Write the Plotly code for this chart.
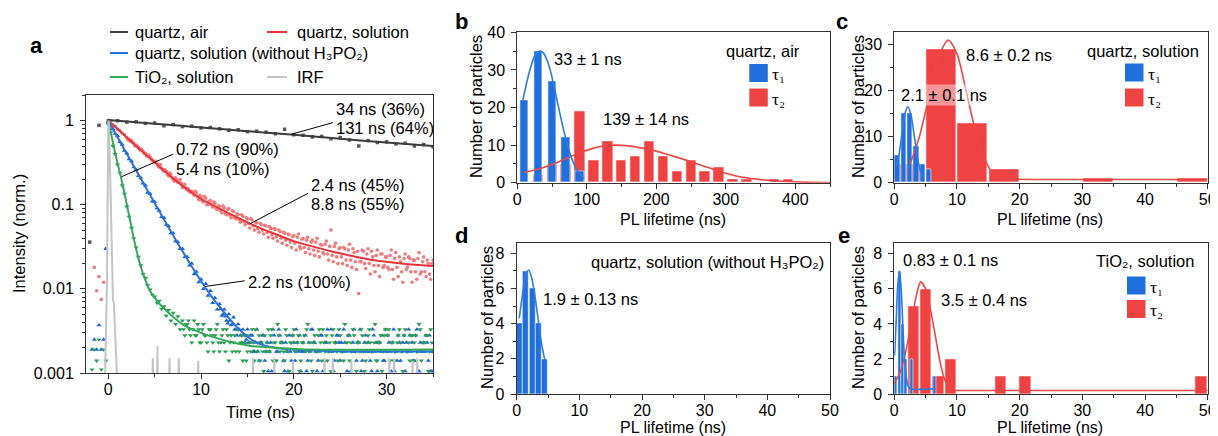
import numpy as np
import plotly.graph_objects as go

W, H = 1218, 436          # window size
OFF = 8                    # default page margin of the html body
FW, FH = W - OFF, H - OFF  # figure size so that it fits the window exactly
FONT = "Liberation Sans, Arial, DejaVu Sans, sans-serif"
SERIF = "Liberation Serif, Times New Roman, DejaVu Serif, serif"

# ================= panel a : PL decays (log scale) =================
# main sampling: 0.25 ns grid starting at -2 ns (one row per ns)
T0, DT = -2.0, 0.25
red_solution = [
    None, None, 0.018, 0.0095,   # -2
    0.014, 0.0075, 0.012, 0.03,  # -1
    0.93, 0.98, 0.88, 0.86,
    0.79, 0.76, 0.71, 0.68,
    0.63, 0.60, 0.58, 0.54,
    0.51, 0.48, 0.46, 0.43,
    0.41, 0.38, 0.37, 0.34,
    0.32, 0.31, 0.28, 0.27,
    0.25, 0.25, 0.22, 0.23,
    0.20, 0.21, 0.185, 0.20,
    0.16, 0.175, 0.15, 0.145,
    0.145, 0.13, 0.14, 0.115,   # 9
    0.125, 0.108, 0.12, 0.10,
    0.112, 0.094, 0.104, 0.088,
    0.096, 0.08, 0.092, 0.076,
    0.09, 0.07, 0.083, 0.068,
    0.076, 0.062, 0.073, 0.058,
    0.068, 0.053, 0.066, 0.05,   # 15
    0.061, 0.047, 0.058, 0.045,
    0.056, 0.041, 0.052, 0.04,
    0.051, 0.037, 0.048, 0.035,
    0.046, 0.033, 0.044, 0.031,
    0.043, 0.029, 0.045, 0.03,   # 20
    0.04, 0.027, 0.041, 0.026,
    0.038, 0.025, 0.04, 0.024,
    0.033, 0.026, 0.037, 0.022,
    0.05, 0.021, 0.035, 0.02,
    0.031, 0.02, 0.03, 0.019,    # 25
    0.034, 0.018, 0.027, 0.017,
    0.0088, 0.021, 0.028, 0.0175,
    0.03, 0.015, 0.024, 0.016,
    0.029, 0.014, 0.026, 0.019,
    0.024, 0.017, 0.029, 0.013,  # 30
    0.027, 0.014, 0.021, 0.012,
    0.026, 0.018, 0.023, 0.012,
    0.022, 0.013, 0.027, 0.016,
    0.024, 0.014, 0.02, 0.013,
    0.022,                       # 35
]
blue_no_h3po2 = [
    None, 0.0019, 0.0025, 0.0019,
    0.0037, 0.0019, 0.0025, 0.03,
    0.97, 0.88, 0.80, 0.70,
    0.66, 0.56, 0.52, 0.44,
    0.41, 0.35, 0.33, 0.28,
    0.26, 0.22, 0.21, 0.18,
    0.17, 0.14, 0.135, 0.11,
    0.108, 0.091, 0.085, 0.072,
    0.07, 0.058, 0.056, 0.046,
    0.046, 0.037, 0.036, 0.03,
    0.03, 0.024, 0.024, 0.019,
    0.02, 0.015, 0.016, 0.012,
    0.013, 0.01, 0.0115, 0.0083,
    0.0095, 0.0068, 0.0078, 0.0057,
    0.0066, 0.0048, 0.0057, 0.0042,
    0.005, 0.0037, 0.0046, 0.0033,
    0.0038, 0.0028, 0.0033, 0.0023,
    0.0033, 0.0023, 0.0028, 0.0018,
    0.0033, 0.0014, 0.0023, 0.0028,
    0.0018, 0.00105, 0.0023, 0.0033,
    0.0014, 0.0018, 0.0028, 0.0023,
    0.00105, 0.0018, 0.0028, 0.0014,
    0.0023, 0.0033, 0.0018, 0.00105,
    0.0023, 0.0028, 0.0014, 0.0018,
    0.0033, 0.0023, 0.00105, 0.0018,
    0.0028, 0.0014, 0.0023, 0.0018,
    0.0033, 0.00105, 0.0023, 0.0028,
    0.0014, 0.0018, 0.0023, 0.00105,
    0.0028, 0.0018, 0.0033, 0.0014,
    0.0023, 0.00105, 0.0018, 0.0028,
    0.0023, 0.0014, 0.0033, 0.0018,
    0.00105, 0.0023, 0.0028, 0.0014,
    0.0018, 0.0023, 0.00105, 0.0033,
    0.0018, 0.0028, 0.0014, 0.0023,
    0.00105, 0.0018, 0.0028, 0.0023,
    0.0014, 0.0033, 0.00105, 0.0018,
    0.0023, 0.0028, 0.0014, 0.00105,
    0.0018,
]
green_tio2 = [
    None, 0.0011, 0.0019, 0.0014,
    0.0025, 0.0011, 0.0019, 0.0014,
    0.90, 0.72, 0.50, 0.40,
    0.30, 0.24, 0.17, 0.135,
    0.095, 0.072, 0.053, 0.04,
    0.031, 0.024, 0.019, 0.015,
    0.0135, 0.011, 0.0098, 0.0085,
    0.0081, 0.0068, 0.0072, 0.0058,
    0.0062, 0.0048, 0.0056, 0.0042,
    0.0052, 0.0038, 0.0047, 0.0033,
    0.0042, 0.0028, 0.0038, 0.0033,
    0.0023, 0.0042, 0.0028, 0.0033,
    0.0023, 0.0038, 0.0028, 0.0018,
    0.0033, 0.0023, 0.0028, 0.0038,
    0.0018, 0.0028, 0.0023, 0.0033,
    0.0014, 0.0028, 0.0023, 0.0018,
    0.0033, 0.0023, 0.0014, 0.0028,
    0.0018, 0.0023, 0.0033, 0.0014,
    0.0018, 0.0028, 0.0023, 0.00105,
    0.0018, 0.0033, 0.0028, 0.0014,
    0.0023, 0.0038, 0.0018, 0.0023,
    0.0014, 0.0028, 0.00105, 0.0023,
    0.0033, 0.0018, 0.0028, 0.0014,
    0.0023, 0.0018, 0.0038, 0.0023,
    0.00105, 0.0028, 0.0018, 0.0033,
    0.0014, 0.0023, 0.0028, 0.0018,
    0.00105, 0.0033, 0.0023, 0.0014,
    0.0028, 0.0018, 0.0038, 0.0023,
    0.0014, 0.0018, 0.0028, 0.00105,
    0.0023, 0.0033, 0.0018, 0.0014,
    0.0028, 0.0023, 0.0018, 0.0038,
    0.0014, 0.0023, 0.00105, 0.0028,
    0.0018, 0.0033, 0.0023, 0.0014,
    0.0018, 0.0028, 0.0023, 0.00105,
    0.0033, 0.0018, 0.0014, 0.0028,
    0.0023, 0.0018, 0.0038, 0.0014,
    0.0023, 0.0028, 0.00105, 0.0033,
    0.0018,
]

# interleaved channels (offset by half a step), one row per ns
red_solution_mid_t0 = 2.125
red_solution_mid = [
    0.59, 0.57, 0.55, 0.50,     # 2
    0.50, 0.45, 0.45, 0.41,
    0.38, 0.39, 0.35, 0.33,
    0.33, 0.29, 0.30, 0.26,
    0.26, 0.23, 0.24, 0.21,
    0.19, 0.20, 0.19, 0.18,
    0.17, 0.158, 0.155, 0.14,
    0.138, 0.145, 0.125, 0.13,
    0.112, 0.125, 0.10, 0.11,   # 10
    0.10, 0.108, 0.09, 0.097,
    0.085, 0.097, 0.078, 0.088,
    0.075, 0.085, 0.07, 0.078,
    0.066, 0.076, 0.063, 0.07,
    0.06, 0.068, 0.056, 0.062,  # 15
    0.052, 0.06, 0.05, 0.057,
    0.047, 0.055, 0.044, 0.052,
    0.042, 0.05, 0.04, 0.047,
    0.038, 0.045, 0.036, 0.042,
    0.035, 0.041, 0.032, 0.039,  # 20
    0.031, 0.038, 0.03, 0.036,
    0.029, 0.036, 0.028, 0.034,
    0.027, 0.034, 0.026, 0.032,
    0.025, 0.032, 0.024, 0.03,
    0.024, 0.031, 0.022, 0.029,  # 25
    0.022, 0.03, 0.021, 0.028,
    0.021, 0.029, 0.02, 0.026,
    0.02, 0.028, 0.019, 0.025,
    0.019, 0.026, 0.018, 0.024,
    0.018, 0.025, 0.017, 0.023,  # 30
    0.018, 0.024, 0.016, 0.023,
    0.017, 0.024, 0.016, 0.022,
    0.016, 0.023, 0.015, 0.021,
    0.016, 0.022, 0.015, 0.02,
]
blue_no_h3po2_mid_t0 = 12.125
blue_no_h3po2_mid = [
    0.0058, 0.005, 0.0047, 0.0039,   # 12
    0.0042, 0.0038, 0.0033, 0.0028,
    0.0033, 0.0023, 0.0028, 0.0025,
    0.0023, 0.0028, 0.0018, 0.0023,
    0.0018, 0.0023, 0.0028, 0.0014,  # 16
    0.0023, 0.0018, 0.00105, 0.0028,
    0.0018, 0.0033, 0.0023, 0.0014,
    0.0023, 0.00105, 0.0018, 0.0028,
    0.0014, 0.0023, 0.0028, 0.0018,  # 20
    0.0018, 0.00105, 0.0023, 0.0033,
    0.0023, 0.0018, 0.0014, 0.0028,
    0.00105, 0.0023, 0.0033, 0.0018,
    0.0018, 0.0014, 0.0028, 0.0023,
    0.0023, 0.0033, 0.0018, 0.0028,  # 25
    0.00105, 0.0023, 0.0018, 0.0023,
    0.0033, 0.0014, 0.0023, 0.0018,
    0.0018, 0.00105, 0.0028, 0.0023,
    0.0023, 0.0018, 0.0014, 0.0033,
    0.0028, 0.0018, 0.0023, 0.00105,  # 30
    0.0014, 0.0023, 0.0018, 0.0028,
    0.0023, 0.0033, 0.0018, 0.0014,
    0.0028, 0.00105, 0.0023, 0.0018,
    0.0018, 0.0023, 0.0028, 0.00105,
]
green_tio2_mid_t0 = 8.125
green_tio2_mid = [
    0.0033, 0.0038, 0.0042, 0.0028,  # 8
    0.0033, 0.0028, 0.0038, 0.0023,
    0.0033, 0.0028, 0.0023, 0.0033,
    0.0028, 0.0018, 0.0033, 0.0023,
    0.0023, 0.0033, 0.0018, 0.0028,
    0.0023, 0.0018, 0.0028, 0.0033,
    0.0018, 0.0028, 0.0023, 0.0014,
    0.0028, 0.0018, 0.0023, 0.0033,  # 15
    0.0023, 0.0014, 0.0018, 0.0028,
    0.0023, 0.0018, 0.0033, 0.0023,
    0.0014, 0.0028, 0.0023, 0.0018,
    0.0033, 0.0018, 0.0023, 0.0028,
    0.0018, 0.0023, 0.00105, 0.0023,  # 20
    0.0028, 0.0033, 0.0018, 0.0014,
    0.0023, 0.0018, 0.0028, 0.0023,
    0.0033, 0.0018, 0.0014, 0.0023,
    0.0028, 0.0023, 0.0018, 0.0033,
    0.0018, 0.0014, 0.0023, 0.0028,  # 25
    0.0023, 0.0033, 0.0018, 0.0023,
    0.0018, 0.0028, 0.00105, 0.0023,
    0.0033, 0.0018, 0.0023, 0.0014,
    0.0023, 0.0028, 0.0018, 0.0033,
    0.0028, 0.0014, 0.0023, 0.0018,  # 30
    0.0023, 0.0033, 0.0018, 0.0028,
    0.0018, 0.0023, 0.0028, 0.0014,
    0.0028, 0.0018, 0.0033, 0.0023,
    0.0023, 0.0028, 0.0018, 0.0023,
]

air_t = [-2.0, -1.0, 0.0, 1, 2, 3, 4, 5, 6, 7, 8, 9, 10, 11, 12, 13, 14, 15, 16,
         17, 18, 19, 20, 21, 22, 23, 24, 25, 26, 27, 28, 29, 30, 31, 32, 33, 34, 35]
air_v = [0.036, 0.88, 1.0, 1.0, 0.96, 0.97, 0.93, 0.94, 0.87, 0.90, 0.85, 0.86,
         0.82, 0.83, 0.80, 0.77, 0.78, 0.74, 0.75, 0.73, 0.70, 0.79, 0.68, 0.67,
         0.64, 0.65, 0.61, 0.63, 0.59, 0.50, 0.58, 0.55, 0.56, 0.53, 0.54, 0.50,
         0.52, 0.49]

# fitted curves
fit_air_t = [0, 5, 10, 15, 20, 25, 30, 35]
fit_air_v = [1.02, 0.92, 0.83, 0.75, 0.68, 0.61, 0.55, 0.50]
fit_red_t = [0, 1, 2, 3, 4, 5, 6, 7, 8, 9, 10, 12, 14, 16, 18, 20, 22, 24, 26, 28, 30, 32, 35]
fit_red_v = [1.0, 0.8, 0.63, 0.5, 0.4, 0.32, 0.255, 0.205, 0.168, 0.14, 0.118, 0.09,
             0.07, 0.055, 0.045, 0.037, 0.032, 0.028, 0.025, 0.0225, 0.021, 0.0198, 0.0187]
fit_blue_t = [0, 1, 2, 3, 4, 5, 6, 7, 8, 9, 10, 11, 12, 13, 14, 15, 16, 17, 18, 20, 22, 26, 35]
fit_blue_v = [1.0, 0.637, 0.405, 0.258, 0.164, 0.105, 0.067, 0.043, 0.028, 0.0185, 0.0124,
              0.0085, 0.0061, 0.0045, 0.0034, 0.0027, 0.0023, 0.0021, 0.002, 0.0019,
              0.00185, 0.0018, 0.0018]
fit_green_t = [0, 0.25, 0.5, 0.75, 1.0, 1.36, 1.7, 2.0, 2.4, 2.79, 3.3, 3.86, 4.5, 5.29,
               6.5, 8.14, 10, 11.7, 13.5, 15.3, 18, 22, 35]
fit_green_v = [1.0, 0.75, 0.55, 0.41, 0.31, 0.216, 0.145, 0.1, 0.062, 0.038, 0.022, 0.014,
               0.0095, 0.0071, 0.0052, 0.0037, 0.003, 0.0026, 0.0023, 0.0021, 0.002,
               0.0019, 0.0019]

# instrument response function
irf_t = [-0.35, -0.15, 0.0, 0.05, 0.2, 0.35, 0.5, 0.6, 0.75, 0.9, 0.95]
irf_v = [0.0009, 0.01, 0.8, 1.0, 0.25, 0.03, 0.0075, 0.0068, 0.003, 0.0013, 0.0009]
irf_spike_t = [4.8, 5.3, 6.6, 7.6, 9.7, 15.6, 17.9, 19.9, 23.3, 24.2, 26.2, 30.3, 30.8, 32.8, 33.3]
irf_spike_v = [0.0015, 0.0021, 0.0015, 0.0015, 0.0014, 0.0015, 0.0015, 0.0014, 0.0015,
               0.0015, 0.0014, 0.0015, 0.0015, 0.0014, 0.0015]

# ================= panels b-e : lifetime histograms =================
b_tau1_x = [10, 30, 50, 70, 90]
b_tau1_n = [22, 35, 27, 12, 3]
b_tau2_x = [30, 50, 70, 90, 110, 130, 150, 170, 190, 210, 230, 250, 270, 290, 310, 330, 350, 370, 390]
b_tau2_n = [2, 5, 5, 19, 6, 11, 6, 7, 11, 7, 3, 6, 3, 4, 1, 1, 0, 1, 1]
b_fit1_x = [8, 12, 16, 20, 25, 30, 33, 38, 43, 48, 53, 58, 63, 68, 73, 78, 83, 88, 93, 96]
b_fit1_y = [22, 25.4, 28.5, 31.2, 33.7, 34.8, 35, 34.4, 32.5, 29.5, 25.5, 21.2, 17, 13, 9.5,
            6.6, 4.4, 2.8, 1.7, 1.2]
b_fit2_x = [10, 25, 40, 60, 80, 95, 110, 125, 140, 160, 180, 200, 220, 245, 270, 295, 320, 345, 370, 395, 420, 450]
b_fit2_y = [2.8, 3.4, 4.2, 5.6, 7.2, 8.3, 9.2, 9.8, 10, 9.8, 9.2, 8.4, 7.3, 5.9, 4.3, 2.8,
            1.6, 0.95, 0.5, 0.25, 0.1, 0.05]

c_tau1_x = [0.5, 1.5, 2.5, 3.5, 4.5, 5.5]
c_tau1_n = [6, 15, 15, 8, 4, 3]
c_tau2_x = [2.5, 7.5, 12.5, 17.5, 32.5, 47.5]
c_tau2_n = [4, 29, 13, 3, 1, 1]
c_fit1_x = [0.3, 0.8, 1.3, 1.8, 2.2, 2.7, 3.2, 3.7, 4.2, 4.5]
c_fit1_y = [3.5, 6.5, 11.5, 15.5, 16.5, 14.5, 10, 5.5, 2.4, 1.3]
c_fit2_x = [2.5, 4, 5.5, 7, 8.6, 10, 11.5, 13, 14.5, 15.2, 16, 17.5, 19, 25, 50]
c_fit2_y = [4, 10, 18.5, 27, 31, 28, 19.7, 11, 5, 3, 1.6, 0.9, 0.75, 0.7, 0.7]

d_tau1_x = [0.5, 1.5, 2.5, 3.5, 4.5]
d_tau1_n = [4, 7, 6, 4, 2]
d_fit1_x = [0.4, 0.9, 1.4, 1.9, 2.4, 2.9, 3.4, 3.9, 4.5]
d_fit1_y = [4.3, 5.6, 6.7, 7.05, 6.6, 5.6, 4.3, 3.0, 1.9]

e_tau1_x = [0.3, 0.85, 1.35, 1.85, 2.75, 6.4]
e_tau1_n = [1, 7, 4, 2, 2, 1]
e_tau2_x = [3.1, 5.05, 7.0, 9.0, 17.0, 20.9, 49.0]
e_tau2_n = [5, 6, 1, 2, 1, 1, 1]
e_fit1_x = [0.05, 0.3, 0.55, 0.83, 1.1, 1.35, 1.6, 1.9, 2.2, 2.6, 6.6]
e_fit1_y = [2.2, 4.2, 6.2, 7.0, 6.0, 4.0, 2.2, 1.0, 0.45, 0.3, 0.3]
e_fit2_x = [0, 1, 2, 3, 3.7, 4.2, 5, 6, 7, 7.5, 8, 8.7, 9.5, 10.5, 50]
e_fit2_y = [0.6, 1.3, 2.7, 4.7, 5.9, 6.4, 6.0, 4.4, 2.4, 1.5, 0.85, 0.4, 0.22, 0.2, 0.2]

# ================= styling =================
C_GRAY_PT, C_GRAY_LN = "#5a5a5a", "#3c3c3c"
C_RED_PT, C_RED_LN = "#f37a7a", "#e8353a"
C_BLUE_PT, C_BLUE_LN = "#1c63d5", "#2a70dc"
C_GREEN_PT, C_GREEN_LN = "#2a9e4e", "#35a85a"
C_IRF = "#c4c4c4"
C_BAR_BLUE, C_BAR_RED = "#1f6fdc", "#ef4343"
C_FIT_BLUE, C_FIT_RED = "#2f7be0", "#ef4646"
TXT = 16.5


def px(x):
    return (x - OFF) / FW


def py(y):
    return 1 - (y - OFF) / FH


fig = go.Figure()


def tgrid(vals, t0=T0):
    return t0 + DT * np.arange(len(vals))


# ---- panel a traces
fig.add_trace(go.Scatter(x=air_t, y=air_v, mode="markers", xaxis="x", yaxis="y",
                         marker=dict(symbol="square", size=3.5, color=C_GRAY_PT)))
for vals, t0 in [(red_solution, T0), (red_solution_mid, red_solution_mid_t0)]:
    fig.add_trace(go.Scatter(x=tgrid(vals, t0), y=vals, mode="markers", xaxis="x", yaxis="y",
                             marker=dict(symbol="circle", size=3.6, color=C_RED_PT)))
for vals, t0 in [(blue_no_h3po2, T0), (blue_no_h3po2_mid, blue_no_h3po2_mid_t0)]:
    fig.add_trace(go.Scatter(x=tgrid(vals, t0), y=vals, mode="markers", xaxis="x", yaxis="y",
                             marker=dict(symbol="triangle-up", size=4.5, color=C_BLUE_PT)))
for vals, t0 in [(green_tio2, T0), (green_tio2_mid, green_tio2_mid_t0)]:
    fig.add_trace(go.Scatter(x=tgrid(vals, t0), y=vals, mode="markers", xaxis="x", yaxis="y",
                             marker=dict(symbol="triangle-down", size=4.5, color=C_GREEN_PT)))
for tx, ty, col in [(fit_air_t, fit_air_v, C_GRAY_LN), (fit_red_t, fit_red_v, C_RED_LN),
                    (fit_blue_t, fit_blue_v, C_BLUE_LN), (fit_green_t, fit_green_v, C_GREEN_LN)]:
    fig.add_trace(go.Scatter(x=tx, y=ty, mode="lines", xaxis="x", yaxis="y",
                             line=dict(color=col, width=2, shape="spline", smoothing=0.6)))
# IRF
irf_x, irf_y = list(irf_t), list(irf_v)
for ts, vs in zip(irf_spike_t, irf_spike_v):
    irf_x += [None, ts - 0.04, ts, ts + 0.04]
    irf_y += [None, 0.0008, vs, 0.0008]
fig.add_trace(go.Scatter(x=irf_x, y=irf_y, mode="lines", xaxis="x", yaxis="y",
                         line=dict(color=C_IRF, width=2), connectgaps=False))

# leader lines for the lifetime labels in panel a
leaders = [([24.2, 19.74], [0.947, 0.69]),
           ([7.0, 1.44], [0.40, 0.216]),
           ([21.53, 15.25], [0.137, 0.0593]),
           ([14.71, 10.41], [0.01248, 0.01067])]
for lx, ly in leaders:
    fig.add_trace(go.Scatter(x=lx, y=ly, mode="lines", xaxis="x", yaxis="y",
                             line=dict(color="#000", width=1)))

# ---- histogram panels


def bars(x, n, w, col, ax, line_col="rgba(255,255,255,0.7)", lw=0.8):
    fig.add_trace(go.Bar(x=x, y=n, width=w, xaxis="x" + ax, yaxis="y" + ax,
                         marker=dict(color=col, line=dict(color=line_col, width=lw))))


def curve(x, y, col, ax):
    fig.add_trace(go.Scatter(x=x, y=y, mode="lines", xaxis="x" + ax, yaxis="y" + ax,
                             line=dict(color=col, width=1.6, shape="spline", smoothing=0.8)))


bars(b_tau2_x, b_tau2_n, 15, C_BAR_RED, "2")
bars(b_tau1_x, b_tau1_n, 12, C_BAR_BLUE, "2")
curve(b_fit2_x, b_fit2_y, C_FIT_RED, "2")
curve(b_fit1_x, b_fit1_y, C_FIT_BLUE, "2")

bars(c_tau2_x, c_tau2_n, 4.8, C_BAR_RED, "3")
bars(c_tau1_x, c_tau1_n, 0.85, C_BAR_BLUE, "3")
curve(c_fit2_x, c_fit2_y, C_FIT_RED, "3")
curve(c_fit1_x, c_fit1_y, C_FIT_BLUE, "3")

bars(d_tau1_x, d_tau1_n, 0.97, C_BAR_BLUE, "4")
curve(d_fit1_x, d_fit1_y, C_FIT_BLUE, "4")

bars(e_tau2_x, e_tau2_n, 1.8, C_BAR_RED, "5")
bars(e_tau1_x, e_tau1_n, 0.5, C_BAR_BLUE, "5")
curve(e_fit2_x, e_fit2_y, C_FIT_RED, "5")
curve(e_fit1_x, e_fit1_y, C_FIT_BLUE, "5")

# ================= axes =================
AX = dict(showline=True, mirror=True, linecolor="#333", linewidth=1, ticks="outside",
          ticklen=5, tickwidth=1, tickcolor="#333", showgrid=False, zeroline=False,
          automargin=False, tickfont=dict(family=FONT, size=16, color="#000"))
AXX = dict(AX, ticklabelstandoff=-3)
AXY = dict(AX, ticklabelstandoff=3)
MINOR = dict(ticks="outside", ticklen=3, tickcolor="#333", showgrid=False)


def dom_x(x0, x1):
    return [px(x0), px(x1)]


def dom_y(y0, y1):
    return [py(y1), py(y0)]


decades = [0.001, 0.01, 0.1, 1]
minor_log = [d * k for d in decades for k in range(2, 10) if d * k < 2.02]

layout = dict(
    template="none",
    width=FW, height=FH, margin=dict(l=0, r=0, t=0, b=0, autoexpand=False), showlegend=False,
    plot_bgcolor="white", paper_bgcolor="white", barmode="overlay", bargap=0,
    font=dict(family=FONT, size=TXT, color="#000"),
    xaxis=dict(AXX, domain=dom_x(86, 433), range=[-2.4, 35], dtick=10, tick0=0, anchor="y",
               minor=dict(MINOR, dtick=5, tick0=0)),
    yaxis=dict(AXY, domain=dom_y(95, 373), type="log", range=[-3, np.log10(2.02)], anchor="x",
               tickmode="array", tickvals=decades, ticktext=["0.001", "0.01", "0.1", "1"],
               minor=dict(MINOR, tickmode="array", tickvals=minor_log)),
    xaxis2=dict(AXX, domain=dom_x(517.3, 830), range=[0, 450], dtick=100, anchor="y2",
                minor=dict(MINOR, dtick=50)),
    yaxis2=dict(AXY, domain=dom_y(32.3, 182.7), range=[0, 40], dtick=10, anchor="x2",
                minor=dict(MINOR, dtick=5)),
    xaxis3=dict(AXX, domain=dom_x(894.3, 1207.7), range=[0, 50], dtick=10, anchor="y3",
                minor=dict(MINOR, dtick=5)),
    yaxis3=dict(AXY, domain=dom_y(32.3, 182.7), range=[0, 32.7], dtick=10, anchor="x3",
                minor=dict(MINOR, dtick=5)),
    xaxis4=dict(AXX, domain=dom_x(516.7, 830), range=[0, 50], dtick=10, anchor="y4",
                minor=dict(MINOR, dtick=5)),
    yaxis4=dict(AXY, domain=dom_y(243.3, 394), range=[0, 8.57], dtick=2, anchor="x4",
                minor=dict(MINOR, dtick=1)),
    xaxis5=dict(AXX, domain=dom_x(894.3, 1207.7), range=[0, 50], dtick=10, anchor="y5",
                minor=dict(MINOR, dtick=5)),
    yaxis5=dict(AXY, domain=dom_y(243.3, 394), range=[0, 8.6], dtick=2, anchor="x5",
                minor=dict(MINOR, dtick=1)),
)
fig.update_layout(**layout)

# ================= text =================
ann = []
shapes = []


def text(x, y, s, size=TXT, xanchor="left", family=FONT, bold=False, angle=0, bg=None):
    d = dict(x=px(x), y=py(y), xref="paper", yref="paper", text=("<b>%s</b>" % s) if bold else s,
             showarrow=False, xanchor=xanchor, yanchor="middle", textangle=angle,
             font=dict(family=family, size=size, color="#000"))
    if bg:
        d["bgcolor"] = bg
    ann.append(d)


# panel letters
text(36, 46, "a", size=22, xanchor="center", bold=True)
text(461, 22, "b", size=22, xanchor="center", bold=True)
text(842, 22, "c", size=22, xanchor="center", bold=True)
text(461, 235, "d", size=22, xanchor="center", bold=True)
text(844, 235, "e", size=22, xanchor="center", bold=True)

# axis titles
text(19, 234, "Intensity (norm.)", xanchor="center", angle=-90)
text(260, 412, "Time (ns)", xanchor="center")
for cx in (476, 858):
    text(cx, 107, "Number of particles", xanchor="center", angle=-90)
for cx in (487, 858):
    text(cx, 318, "Number of particles", xanchor="center", angle=-90)
text(673, 219, "PL lifetime (ns)", size=16, xanchor="center")
text(1050, 219, "PL lifetime (ns)", size=16, xanchor="center")
text(673, 427, "PL lifetime (ns)", size=16, xanchor="center")
text(1050, 427, "PL lifetime (ns)", size=16, xanchor="center")

# panel a legend
leg = [(110, 128, 32, C_GRAY_LN, 133, "quartz, air"),
       (267, 287, 32, C_RED_LN, 295, "quartz, solution"),
       (110, 128, 53, C_BLUE_LN, 133, "quartz, solution (without H₃PO₂)"),
       (110, 128, 77, C_GREEN_LN, 133, "TiO₂, solution"),
       (267, 287, 77, C_IRF, 295, "IRF")]
for x0, x1, yy, col, tx, label in leg:
    shapes.append(dict(type="line", xref="paper", yref="paper", x0=px(x0), x1=px(x1),
                       y0=py(yy), y1=py(yy), line=dict(color=col, width=2)))
    text(tx, yy, label)

# panel a lifetime labels
text(334, 109, "34 ns (36%)")
text(334, 128, "131 ns (64%)")
text(173.5, 149, "0.72 ns (90%)")
text(173.5, 169, "5.4 ns (10%)")
text(309, 185, "2.4 ns (45%)")
text(309, 204, "8.8 ns (55%)")
text(245.5, 282, "2.2 ns (100%)")

# histogram labels
text(552, 59, "33 ± 1 ns")
text(601, 119, "139 ± 14 ns")
text(964, 55, "8.6 ± 0.2 ns")
text(899, 95, "2.1 ± 0.1 ns", bg="rgba(255,255,255,0.45)")
text(541, 299, "1.9 ± 0.13 ns")
text(901, 260, "0.83 ± 0.1 ns")
text(939, 300, "3.5 ± 0.4 ns")

# histogram legends
text(802, 51, "quartz, air", xanchor="right")
text(1201, 51, "quartz, solution", xanchor="right")
text(826, 262, "quartz, solution (without H₃PO₂)", xanchor="right")
text(1196, 261, "TiO₂, solution", xanchor="right")
for sx, y_b, y_r in [(749.3, 73, 97.5), (1125, 72.5, 97.5), (1127, 285.5, 309)]:
    for yy, col, lab in [(y_b, C_BAR_BLUE, "τ₁"), (y_r, C_BAR_RED, "τ₂")]:
        shapes.append(dict(type="rect", xref="paper", yref="paper", x0=px(sx), x1=px(sx + 18.5),
                           y0=py(yy + 9), y1=py(yy - 9), fillcolor=col, line=dict(width=0)))
        text(sx + 21, yy + 1, lab, size=17.5, family=SERIF)

fig.update_layout(annotations=ann, shapes=shapes)
fig.write_html("out.html")
